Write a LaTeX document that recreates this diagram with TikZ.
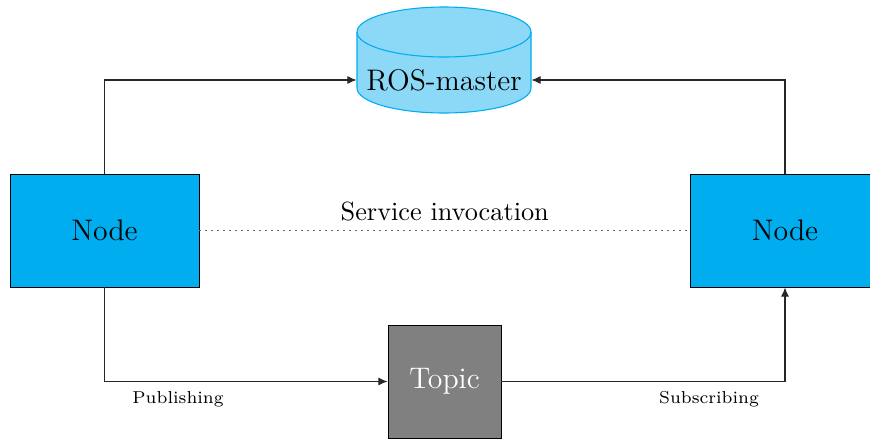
\documentclass[tikz,border=0pt]{standalone}
\usetikzlibrary{arrows.meta}
\definecolor{nodeblue}{RGB}{0,173,239}
\definecolor{masterblue}{RGB}{140,216,247}
\definecolor{topicgray}{RGB}{128,128,128}
\begin{document}
\begin{tikzpicture}[x=0.41667pt,y=0.41667pt,
  big/.style={font=\fontsize{12.4}{14}\selectfont},
  rosnode/.style={big, draw=black, line width=0.4pt, fill=nodeblue,
    minimum width=78.75pt, minimum height=47.08pt, inner sep=0pt},
  topicbox/.style={big, draw=black, line width=0.4pt, fill=topicgray, text=white,
    minimum width=47.08pt, minimum height=47.08pt, inner sep=0pt},
  link/.style={line width=0.45pt, draw=black!85, -{Latex[length=3.8pt,width=3.3pt]}},
  smalllabel/.style={font=\fontsize{7.2}{8}\selectfont, anchor=base, inner sep=0pt}]
\useasboundingbox (0,0) rectangle (870,441);

% ROS master drawn as a cylinder
\filldraw[draw=nodeblue, fill=masterblue, line width=0.45pt]
  (357,409) -- (357,353)
  arc[start angle=180, end angle=360, x radius=87, y radius=25]
  -- (531,409)
  arc[start angle=0, end angle=180, x radius=87, y radius=25] -- cycle;
\draw[nodeblue, line width=0.45pt] (357,409)
  arc[start angle=180, end angle=360, x radius=87, y radius=25];
\node[big, inner sep=0pt, minimum width=72.5pt, minimum height=10pt] (master) at (444,361) {ROS-master};

% nodes and topic
\node[rosnode] (left) at (104.5,210.5) {Node};
\node[rosnode] (right) at (785,210.5) {Node};
\node[topicbox] (topic) at (444.5,59.5) {Topic};

% registration with the master
\draw[link] (left.north) |- (master.west);
\draw[link] (right.north) |- (master.east);

% publish / subscribe
\draw[link] (left.south) |- (topic.west)
  node[smalllabel, pos=0.63, yshift=-9.2pt] {Publishing};
\draw[link] (topic.east) -| (right.south)
  node[smalllabel, pos=0.366, yshift=-9.2pt] {Subscribing};

% service call
\draw[dotted, black!60, line width=0.5pt] (left.east) -- (right.west)
  node[midway, anchor=base, yshift=4.2pt, inner sep=0pt, font=\fontsize{10.95}{13}\selectfont, text=black] {Service invocation};
\end{tikzpicture}
\end{document}
